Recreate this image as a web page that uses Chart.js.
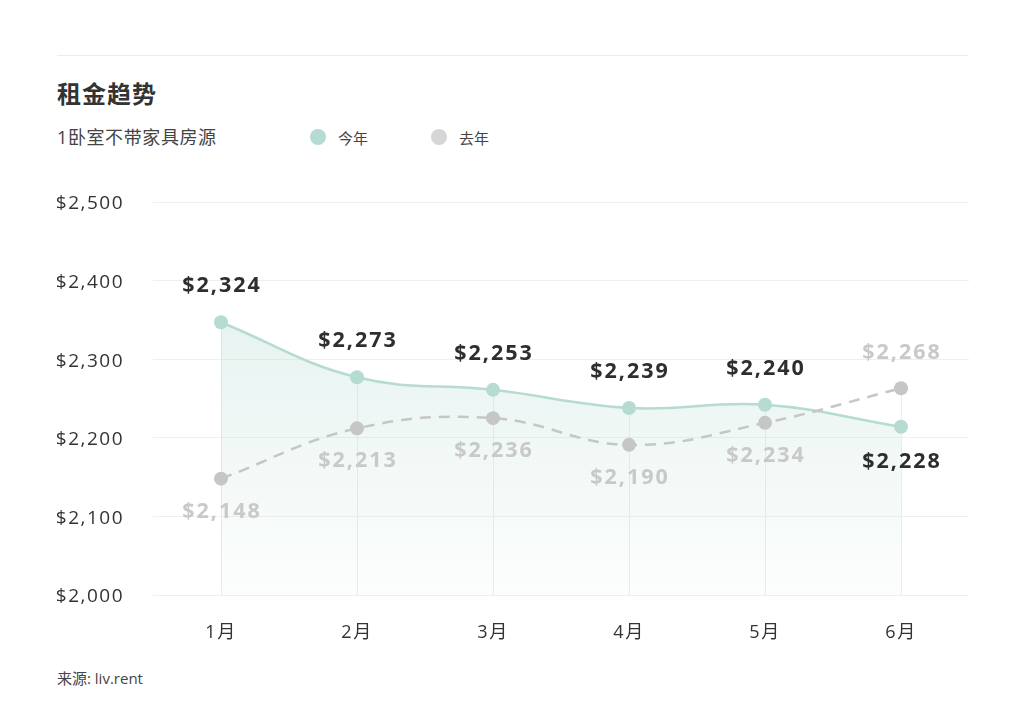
<!DOCTYPE html>
<html>
<head>
<meta charset="utf-8">
<script src="https://cdn.jsdelivr.net/npm/chart.js@4.4.1/dist/chart.umd.min.js"></script>
<style>
  html, body { margin: 0; padding: 0; background: #fff; }
  body { width: 1024px; height: 717px; position: relative; overflow: hidden;
         font-family: "Open Sans", "Noto Sans CJK SC", sans-serif; color: #333; }
  #wrap { position: absolute; left: 0; top: 0; width: 1024px; height: 717px; }
  .topline { position: absolute; left: 57px; top: 55px; width: 911px; height: 1px; background: #ececec; }
  .title { position: absolute; left: 57px; top: 76px; font-size: 24px; font-weight: 700; line-height: 34px;
           font-family: "Noto Sans CJK SC", sans-serif; color: #333; letter-spacing: 1px; }
  .subtitle { position: absolute; left: 57px; top: 124px; font-size: 18px; line-height: 26px;
              font-family: "Open Sans", "Noto Sans CJK SC", sans-serif; color: #444; letter-spacing: 0.6px; }
  .legend { position: absolute; top: 126px; height: 22px; display: flex; align-items: center;
            font-size: 15px; font-family: "Noto Sans CJK SC", sans-serif; color: #444; }
  .legend .dot { width: 16px; height: 16px; border-radius: 50%; margin-right: 12px; }
  .footer { position: absolute; left: 57px; top: 667px; font-size: 15px; line-height: 22px;
            font-family: "Open Sans", "Noto Sans CJK SC", sans-serif; color: #444; }
</style>
</head>
<body>
<div class="topline"></div>
<div class="title">租金趋势</div>
<div class="subtitle">1卧室不带家具房源</div>
<div id="legend"></div>
<div class="footer">来源: liv.rent</div>
<div id="wrap"><canvas id="c" width="1024" height="717"></canvas></div>
<script>
// ---- data ----
const months = ['1月', '2月', '3月', '4月', '5月', '6月'];
const seriesNames = ['今年', '去年'];
const thisYear = [2347, 2277, 2261, 2238, 2242, 2214];
const lastYear = [2148, 2212, 2225, 2191, 2219, 2263];
const thisYearLabels = ['$2,324', '$2,273', '$2,253', '$2,239', '$2,240', '$2,228'];
const lastYearLabels = ['$2,148', '$2,213', '$2,236', '$2,190', '$2,234', '$2,268'];
const yMin = 2000, yMax = 2500, yStep = 100;

const teal = '#b5dbd2';
const grey = '#c6c6c6';

// legend (HTML)
const legendPos = [310, 431];
const legendColors = [teal, '#d6d6d6'];
const lg = document.getElementById('legend');
seriesNames.forEach((n, i) => {
  const d = document.createElement('div');
  d.className = 'legend';
  d.style.left = legendPos[i] + 'px';
  d.innerHTML = '<span class="dot" style="background:' + legendColors[i] + '"></span><span>' + n + '</span>';
  lg.appendChild(d);
});

const spacingPlugin = {
  id: 'spacing',
  beforeUpdate(chart) { chart.ctx.letterSpacing = '1.5px'; },
  beforeDraw(chart) { chart.ctx.letterSpacing = '1.5px'; }
};

const dropLines = {
  id: 'dropLines',
  beforeDatasetsDraw(chart) {
    const ctx = chart.ctx;
    const m0 = chart.getDatasetMeta(0), m1 = chart.getDatasetMeta(1);
    const bottom = chart.chartArea.bottom;
    ctx.save();
    ctx.strokeStyle = '#ececec';
    ctx.lineWidth = 1;
    m0.data.forEach((p, i) => {
      const top = Math.min(p.y, m1.data[i].y);
      const x = Math.round(p.x) + 0.5;
      ctx.beginPath();
      ctx.moveTo(x, top);
      ctx.lineTo(x, bottom);
      ctx.stroke();
    });
    ctx.restore();
  }
};

const valueLabels = {
  id: 'valueLabels',
  afterDatasetsDraw(chart) {
    const ctx = chart.ctx;
    const m0 = chart.getDatasetMeta(0), m1 = chart.getDatasetMeta(1);
    ctx.save();
    ctx.letterSpacing = '2px';
    ctx.font = '700 21.5px "Open Sans", sans-serif';
    ctx.textAlign = 'center';
    ctx.textBaseline = 'middle';
    m0.data.forEach((p, i) => {
      const above = thisYear[i] >= lastYear[i];
      ctx.fillStyle = '#2e2e2e';
      ctx.fillText(thisYearLabels[i], p.x + 1, p.y + (above ? -36 : 35));
      const q = m1.data[i];
      ctx.fillStyle = '#c9c9c9';
      ctx.fillText(lastYearLabels[i], q.x + 1, q.y + (above ? 33 : -35));
    });
    ctx.restore();
  }
};

const ctx = document.getElementById('c').getContext('2d');
const chart = new Chart(ctx, {
  type: 'line',
  data: {
    labels: months,
    datasets: [
      {
        label: seriesNames[0],
        data: thisYear,
        borderColor: teal,
        borderWidth: 2.5,
        pointBackgroundColor: teal,
        pointBorderColor: teal,
        pointRadius: 7,
        pointBorderWidth: 0,
        tension: 0.4,
        fill: 'start',
        backgroundColor: (c) => {
          const a = c.chart.chartArea;
          if (!a) return 'rgba(181,219,210,0.3)';
          const g = c.chart.ctx.createLinearGradient(0, a.top + 100, 0, a.bottom);
          g.addColorStop(0, 'rgba(181,219,210,0.34)');
          g.addColorStop(1, 'rgba(181,219,210,0.04)');
          return g;
        },
        order: 1
      },
      {
        label: seriesNames[1],
        data: lastYear,
        borderColor: grey,
        borderWidth: 2.5,
        borderDash: [11, 8],
        pointBackgroundColor: grey,
        pointBorderColor: grey,
        pointRadius: 7,
        pointBorderWidth: 0,
        tension: 0.4,
        fill: false,
        order: 0
      }
    ]
  },
  options: {
    responsive: false,
    animation: false,
    events: [],
    layout: { padding: { left: 57, right: 55, top: 202, bottom: 62 } },
    plugins: { legend: { display: false }, tooltip: { enabled: false } },
    scales: {
      x: {
        offset: true,
        grid: { display: false, drawTicks: false },
        border: { display: false },
        ticks: { color: '#333', font: { family: '"Open Sans", "Noto Sans CJK SC", sans-serif', size: 18 }, padding: 27 },
        afterFit(s) { s.height = 60; }
      },
      y: {
        min: yMin, max: yMax,
        grid: { color: '#efefef', drawTicks: false, lineWidth: 1 },
        border: { display: false },
        ticks: {
          stepSize: yStep,
          color: '#333',
          padding: 29,
          labelOffset: 2,
          font: { family: '"Open Sans", sans-serif', size: 19 },
          callback: (v) => '$' + v.toLocaleString('en-US')
        },
        afterFit(s) { s.width = 96; }
      }
    }
  },
  plugins: [spacingPlugin, dropLines, valueLabels]
});
</script>
</body>
</html>
